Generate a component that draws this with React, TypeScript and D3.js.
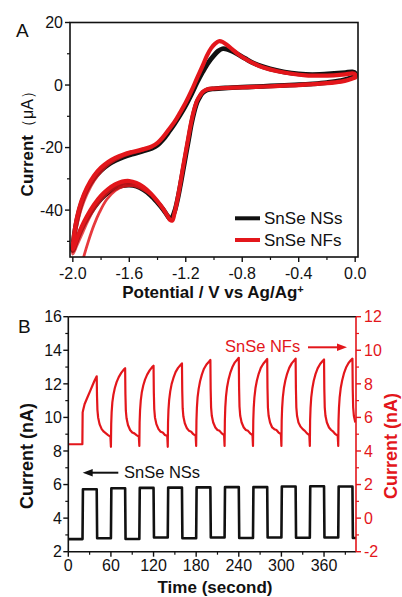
import React from "react";
import * as d3 from "d3";

const FONT = "'Liberation Sans', Arial, Helvetica, sans-serif";
const RED = "#e3161b";
const INK = "#111111";

// ---------- Panel A : cyclic voltammetry ----------
const CV_X_TICKS = [-2.0, -1.6, -1.2, -0.8, -0.4, 0.0];
const CV_X_MINOR = [-1.8, -1.4, -1.0, -0.6, -0.2];
const CV_Y_TICKS = [20, 0, -20, -40];
const CV_Y_MINOR = [10, -10, -30, -50];

const NSS_CV: [number, number][] = [
  [0.0, 2.8], [-0.05, 2.0], [-0.1, 1.4], [-0.2, 0.8], [-0.3, 0.4], [-0.4, 0.1], [-0.5, -0.1],
  [-0.6, -0.3], [-0.7, -0.5], [-0.8, -0.7], [-0.9, -0.9], [-1.0, -1.2], [-1.05, -1.6], [-1.08, -2.5],
  [-1.1, -3.8], [-1.12, -5.5], [-1.14, -8.5], [-1.16, -12.5], [-1.18, -17.5], [-1.2, -22.5],
  [-1.22, -27.5], [-1.24, -32.5], [-1.26, -37], [-1.28, -40.5], [-1.3, -42.5], [-1.315, -42.7],
  [-1.33, -41.8], [-1.36, -39.8], [-1.4, -37.6], [-1.45, -35.2], [-1.5, -33.5], [-1.55, -32.4],
  [-1.6, -32.0], [-1.65, -32.2], [-1.7, -33.0], [-1.75, -34.4], [-1.8, -36.4], [-1.85, -39.2],
  [-1.9, -42.8], [-1.94, -46.3], [-1.97, -49.5], [-2.0, -53.0],
  [-1.99, -48], [-1.97, -43], [-1.94, -38], [-1.9, -33.5], [-1.85, -29.8], [-1.8, -27.3],
  [-1.75, -25.5], [-1.7, -24.2], [-1.64, -23.0], [-1.58, -22.1], [-1.5, -21.1], [-1.44, -20.2],
  [-1.4, -19.2], [-1.36, -17.4], [-1.32, -15.0], [-1.28, -12.4], [-1.24, -9.6], [-1.2, -6.5],
  [-1.16, -3.0], [-1.12, 0.8], [-1.08, 4.2], [-1.04, 7.2], [-1.0, 9.5], [-0.97, 10.9],
  [-0.94, 11.6], [-0.91, 11.5], [-0.87, 10.8], [-0.83, 9.8], [-0.78, 8.5], [-0.72, 7.0],
  [-0.65, 5.8], [-0.55, 4.6], [-0.45, 3.8], [-0.35, 3.4], [-0.25, 3.4], [-0.15, 3.7],
  [-0.07, 4.0], [-0.02, 4.2], [0.0, 3.8], [0.0, 2.8],
];

const NFS_CV_1: [number, number][] = [
  [0.0, 2.4], [-0.05, 1.6], [-0.1, 1.1], [-0.2, 0.6], [-0.3, 0.3], [-0.4, 0.0], [-0.5, -0.2],
  [-0.6, -0.4], [-0.7, -0.6], [-0.8, -0.75], [-0.9, -0.9], [-1.0, -1.1], [-1.05, -1.4], [-1.08, -2.2],
  [-1.1, -3.4], [-1.12, -5.0], [-1.14, -7.8], [-1.16, -11.6], [-1.18, -16.4], [-1.2, -21.4],
  [-1.22, -26.5], [-1.24, -31.8], [-1.26, -36.8], [-1.28, -41.0], [-1.295, -43.3], [-1.31, -43.2],
  [-1.33, -41.8], [-1.36, -39.6], [-1.4, -37.2], [-1.45, -34.6], [-1.5, -32.6], [-1.55, -31.3],
  [-1.6, -30.7], [-1.65, -30.9], [-1.7, -31.8], [-1.75, -33.3], [-1.8, -35.4], [-1.85, -38.3],
  [-1.9, -42.0], [-1.94, -45.6], [-1.97, -49.0], [-2.0, -52.5],
  [-1.99, -47.5], [-1.97, -42.2], [-1.94, -37.2], [-1.9, -32.8], [-1.85, -29.0], [-1.8, -26.4],
  [-1.75, -24.6], [-1.7, -23.3], [-1.64, -22.2], [-1.58, -21.4], [-1.5, -20.5], [-1.44, -19.6],
  [-1.4, -18.5], [-1.36, -16.6], [-1.32, -14.2], [-1.28, -11.8], [-1.24, -8.8], [-1.2, -5.6],
  [-1.16, -1.9], [-1.12, 2.2], [-1.08, 6.2], [-1.05, 9.4], [-1.02, 11.8], [-0.99, 13.3],
  [-0.965, 14.0], [-0.94, 13.8], [-0.91, 12.9], [-0.87, 11.4], [-0.83, 9.9], [-0.78, 8.4],
  [-0.72, 6.9], [-0.65, 5.6], [-0.55, 4.4], [-0.45, 3.6], [-0.35, 3.1], [-0.25, 3.0],
  [-0.15, 3.1], [-0.07, 3.4], [-0.02, 3.7], [0.0, 3.4], [0.0, 2.4],
];

const NFS_CV_2: [number, number][] = [
  [-1.45, -34.9], [-1.5, -32.9], [-1.55, -31.7], [-1.6, -31.3], [-1.66, -31.8], [-1.72, -33.2],
  [-1.78, -35.6], [-1.84, -39.0], [-1.89, -43.0], [-1.93, -47.0], [-1.97, -51.0], [-2.0, -54.0],
  [-1.99, -49.5], [-1.97, -44.5], [-1.94, -39.4], [-1.9, -34.8], [-1.85, -30.6], [-1.8, -27.6],
  [-1.75, -25.4], [-1.7, -23.9], [-1.64, -22.6], [-1.58, -21.7], [-1.5, -20.8], [-1.44, -19.8],
];

const NFS_FIRST_SWEEP: [number, number][] = [
  [-1.45, -35.0], [-1.52, -33.0], [-1.58, -32.2], [-1.64, -32.4], [-1.7, -33.8], [-1.76, -36.6],
  [-1.81, -40.6], [-1.85, -44.8], [-1.89, -50.0], [-1.92, -54.5], [-1.935, -57],
];

// ---------- Panel B : photocurrent vs time ----------
const T_TICKS = [0, 60, 120, 180, 240, 300, 360];
const T_MINOR = [30, 90, 150, 210, 270, 330, 390];
const LEFT_TICKS = [2, 4, 6, 8, 10, 12, 14, 16];
const LEFT_MINOR = [3, 5, 7, 9, 11, 13, 15];
const RIGHT_TICKS = [-2, 0, 2, 4, 6, 8, 10, 12];
const RIGHT_MINOR = [-1, 1, 3, 5, 7, 9, 11];

const LIGHT_ON = [20, 60, 100, 140, 180, 220, 260, 300, 340, 380];
const LIGHT_OFF = [40, 80, 120, 160, 200, 240, 280, 320, 360, 400];
const NSS_HIGH = [5.72, 5.78, 5.8, 5.82, 5.83, 5.85, 5.85, 5.88, 5.9, 5.88];
const NSS_LOW = [2.75, 2.8, 2.76, 2.85, 2.8, 2.85, 2.82, 2.85, 2.83, 2.85, 2.82];
const T_END = 405;

const NFS_FIRST: [number, number][] = [
  [0, 4.4], [19.8, 4.4], [20.2, 6.3], [21, 6.45], [23, 6.8], [27, 7.2], [31, 7.6], [34, 7.9],
  [37, 8.2], [40, 8.45], [40.4, 7.3], [41, 6.45], [42, 6.0], [44, 5.6], [47, 5.3], [50, 5.15],
  [53, 5.05], [56, 4.95], [59.3, 4.85],
];
const NFS_OFFSETS = [0, 0.4, 1, 2, 3.5, 5.5, 8, 11, 14.5, 18, 20, 20.4, 21, 22, 24, 27, 30, 33, 36, 39.3];
const NFS_CYCLES: number[][] = [
  [4.25, 5.6, 6.3, 6.9, 7.35, 7.75, 8.1, 8.4, 8.65, 8.85, 8.93, 7.4, 6.4, 5.95, 5.55, 5.25, 5.1, 5.05, 4.95, 4.85],
  [4.3, 5.7, 6.4, 7.0, 7.5, 7.9, 8.25, 8.55, 8.8, 9.0, 9.08, 7.5, 6.5, 6.0, 5.6, 5.3, 5.15, 5.1, 4.95, 4.9],
  [4.25, 5.7, 6.45, 7.05, 7.55, 8.0, 8.35, 8.7, 8.95, 9.12, 9.22, 7.6, 6.55, 6.05, 5.65, 5.35, 5.2, 5.15, 5.0, 4.9],
  [4.3, 5.8, 6.55, 7.2, 7.7, 8.15, 8.55, 8.9, 9.15, 9.32, 9.42, 7.7, 6.6, 6.1, 5.7, 5.4, 5.25, 5.2, 5.05, 4.95],
  [4.3, 5.8, 6.6, 7.25, 7.8, 8.25, 8.65, 9.0, 9.28, 9.45, 9.55, 7.8, 6.65, 6.1, 5.7, 5.4, 5.25, 5.2, 5.05, 4.95],
  [4.3, 5.8, 6.55, 7.2, 7.75, 8.2, 8.6, 8.95, 9.2, 9.38, 9.48, 7.75, 6.6, 6.1, 5.7, 5.4, 5.3, 5.25, 5.1, 5.0],
  [4.3, 5.8, 6.55, 7.2, 7.75, 8.2, 8.6, 8.95, 9.22, 9.4, 9.5, 7.75, 6.6, 6.1, 5.7, 5.45, 5.3, 5.2, 5.05, 4.95],
  [4.3, 5.8, 6.55, 7.2, 7.72, 8.18, 8.58, 8.92, 9.18, 9.36, 9.45, 7.7, 6.6, 6.1, 5.7, 5.4, 5.25, 5.15, 5.0, 4.9],
  [4.3, 5.8, 6.55, 7.2, 7.75, 8.2, 8.62, 8.97, 9.24, 9.42, 9.5, 7.7, 6.6, 6.1, 5.7],
];

export default function App() {
  // Panel A scales
  const xA = d3.scaleLinear().domain([-2.02, 0.02]).range([70, 358]);
  const yA = d3.scaleLinear().domain([-55, 20]).range([257, 22.5]);
  const lineA = d3
    .line<[number, number]>()
    .x((d) => xA(d[0]))
    .y((d) => yA(d[1]))
    .curve(d3.curveCatmullRom.alpha(0.5));

  // Panel B scales
  const xB = d3.scaleLinear().domain([0, T_END]).range([68.3, 356]);
  const yL = d3.scaleLinear().domain([2, 16]).range([551.7, 316.7]);
  const yR = d3.scaleLinear().domain([-2, 12]).range([551.7, 316.7]);
  const lineBL = d3.line<[number, number]>().x((d) => xB(d[0])).y((d) => yL(d[1]));
  const lineBR = d3.line<[number, number]>().x((d) => xB(d[0])).y((d) => yR(d[1]));

  // black square wave from levels & switching times
  const nssPts: [number, number][] = [[0, NSS_LOW[0]]];
  LIGHT_ON.forEach((on, i) => {
    nssPts.push([on, NSS_LOW[i]]);
    nssPts.push([on + 0.6, NSS_HIGH[i]]);
    nssPts.push([LIGHT_OFF[i], NSS_HIGH[i]]);
    nssPts.push([LIGHT_OFF[i] + 0.6, NSS_LOW[i + 1]]);
  });
  nssPts.push([T_END, NSS_LOW[NSS_LOW.length - 1]]);

  const nfsPts: [number, number][] = [...NFS_FIRST];
  NFS_CYCLES.forEach((vals, k) => {
    const t0 = LIGHT_ON[k + 1];
    vals.forEach((v, j) => nfsPts.push([t0 + NFS_OFFSETS[j], v]));
  });

  const [ax0, ax1] = xA.range();
  const [ay1, ay0] = yA.range();
  const [bx0, bx1] = xB.range();
  const [by1, by0] = yL.range();

  const tickText = { fontFamily: FONT, fontSize: 16, fill: INK } as const;
  const titleText = { fontFamily: FONT, fontSize: 17, fontWeight: 700, fill: INK } as const;

  return (
    <svg
      width={402}
      height={597}
      viewBox="0 0 402 597"
      style={{ position: "absolute", left: 0, top: 0, background: "#fff" }}
    >
      <defs>
        <clipPath id="clipA">
          <rect x={ax0} y={ay0} width={ax1 - ax0} height={ay1 - ay0} />
        </clipPath>
        <clipPath id="clipB">
          <rect x={bx0} y={by0} width={bx1 - bx0} height={by1 - by0} />
        </clipPath>
      </defs>
      <rect x={0} y={0} width={402} height={597} fill="#fff" />

      {/* ================= Panel A ================= */}
      <text x={16} y={37} style={{ fontFamily: FONT, fontSize: 19, fill: INK }}>A</text>

      <g clipPath="url(#clipA)" fill="none" strokeLinejoin="round" strokeLinecap="round">
        <path d={lineA(NSS_CV) || ""} stroke={INK} strokeWidth={4.8} />
        <path d={lineA(NFS_FIRST_SWEEP) || ""} stroke={RED} strokeWidth={2.8} opacity={0.85} />
        <path d={lineA(NFS_CV_2) || ""} stroke={RED} strokeWidth={3.2} opacity={0.75} />
        <path d={lineA(NFS_CV_1) || ""} stroke={RED} strokeWidth={4.2} />
      </g>

      <rect x={ax0} y={ay0} width={ax1 - ax0} height={ay1 - ay0} fill="none" stroke={INK} strokeWidth={1.6} />

      {CV_X_TICKS.map((v) => (
        <g key={"ax" + v}>
          <line x1={xA(v)} x2={xA(v)} y1={ay1} y2={ay1 + 5} stroke={INK} strokeWidth={1.4} />
          <text x={xA(v)} y={278.5} textAnchor="middle" style={tickText}>{v.toFixed(1)}</text>
        </g>
      ))}
      {CV_X_MINOR.map((v) => (
        <line key={"axm" + v} x1={xA(v)} x2={xA(v)} y1={ay1} y2={ay1 + 3} stroke={INK} strokeWidth={1.2} />
      ))}
      {CV_Y_TICKS.map((v) => (
        <g key={"ay" + v}>
          <line x1={ax0 - 5} x2={ax0} y1={yA(v)} y2={yA(v)} stroke={INK} strokeWidth={1.4} />
          <text x={63} y={yA(v)} dy="0.36em" textAnchor="end" style={tickText}>{String(v)}</text>
        </g>
      ))}
      {CV_Y_MINOR.map((v) => (
        <line key={"aym" + v} x1={ax0 - 3} x2={ax0} y1={yA(v)} y2={yA(v)} stroke={INK} strokeWidth={1.2} />
      ))}

      <text x={213} y={297.5} textAnchor="middle" style={titleText}>
        Potential / V vs Ag/Ag
        <tspan dy={-5} style={{ fontSize: 11 }}>+</tspan>
      </text>
      <text transform={`translate(33,${(ay0 + ay1) / 2}) rotate(-90)`} textAnchor="middle" style={titleText}>
        Current
        <tspan style={{ fontWeight: 400, fontSize: 16 }}>（μA）</tspan>
      </text>

      {/* legend A */}
      <line x1={235} x2={260} y1={218.3} y2={218.3} stroke={INK} strokeWidth={4} />
      <text x={264} y={224} style={{ fontFamily: FONT, fontSize: 17, fill: INK }}>SnSe NSs</text>
      <line x1={235} x2={260} y1={240} y2={240} stroke={RED} strokeWidth={4} />
      <text x={264} y={245.7} style={{ fontFamily: FONT, fontSize: 17, fill: INK }}>SnSe NFs</text>

      {/* ================= Panel B ================= */}
      <text x={18} y={333} style={{ fontFamily: FONT, fontSize: 19, fill: INK }}>B</text>

      <g clipPath="url(#clipB)" fill="none" strokeLinejoin="round">
        <path d={lineBL(nssPts) || ""} stroke={INK} strokeWidth={2.6} />
        <path d={lineBR(nfsPts) || ""} stroke={RED} strokeWidth={2.2} />
      </g>

      {/* frame */}
      <line x1={bx0} x2={bx1} y1={by0} y2={by0} stroke={INK} strokeWidth={1.6} />
      <line x1={bx0} x2={bx1} y1={by1} y2={by1} stroke={INK} strokeWidth={1.6} />
      <line x1={bx0} x2={bx0} y1={by0} y2={by1} stroke={INK} strokeWidth={1.6} />
      <line x1={bx1} x2={bx1} y1={by0} y2={by1} stroke={RED} strokeWidth={1.6} />

      {T_TICKS.map((v) => (
        <g key={"bt" + v}>
          <line x1={xB(v)} x2={xB(v)} y1={by1} y2={by1 + 5} stroke={INK} strokeWidth={1.4} />
          <text x={xB(v)} y={571} textAnchor="middle" style={tickText}>{String(v)}</text>
        </g>
      ))}
      {T_MINOR.map((v) => (
        <line key={"btm" + v} x1={xB(v)} x2={xB(v)} y1={by1} y2={by1 + 3} stroke={INK} strokeWidth={1.2} />
      ))}
      {LEFT_TICKS.map((v) => (
        <g key={"bl" + v}>
          <line x1={bx0 - 5} x2={bx0} y1={yL(v)} y2={yL(v)} stroke={INK} strokeWidth={1.4} />
          <text x={62} y={yL(v)} dy="0.36em" textAnchor="end" style={tickText}>{String(v)}</text>
        </g>
      ))}
      {LEFT_MINOR.map((v) => (
        <line key={"blm" + v} x1={bx0 - 3} x2={bx0} y1={yL(v)} y2={yL(v)} stroke={INK} strokeWidth={1.2} />
      ))}
      {RIGHT_TICKS.map((v) => (
        <g key={"br" + v}>
          <line x1={bx1} x2={bx1 + 5} y1={yR(v)} y2={yR(v)} stroke={RED} strokeWidth={1.4} />
          <text x={364} y={yR(v)} dy="0.36em" textAnchor="start" style={{ ...tickText, fill: RED }}>{String(v)}</text>
        </g>
      ))}
      {RIGHT_MINOR.map((v) => (
        <line key={"brm" + v} x1={bx1} x2={bx1 + 3} y1={yR(v)} y2={yR(v)} stroke={RED} strokeWidth={1.2} />
      ))}

      <text x={215} y={593} textAnchor="middle" style={titleText}>Time (second)</text>
      <text transform={`translate(33,456) rotate(-90)`} textAnchor="middle" style={{ ...titleText, fontSize: 18 }}>
        Current (nA)
      </text>
      <text transform={`translate(397,446) rotate(-90)`} textAnchor="middle" style={{ ...titleText, fontSize: 18, fill: RED }}>
        Current (nA)
      </text>

      {/* annotations */}
      <text x={225} y={351.7} style={{ fontFamily: FONT, fontSize: 16.5, fill: RED }}>SnSe NFs</text>
      <line x1={308} x2={340} y1={347.3} y2={347.3} stroke={RED} strokeWidth={2} />
      <path d="M347,347.3 L337,343.6 L337,351 Z" fill={RED} />

      <line x1={90} x2={118.3} y1={472.7} y2={472.7} stroke={INK} strokeWidth={2} />
      <path d="M82.7,472.7 L92.7,469 L92.7,476.4 Z" fill={INK} />
      <text x={124} y={478} style={{ fontFamily: FONT, fontSize: 16.5, fill: INK }}>SnSe NSs</text>
    </svg>
  );
}
